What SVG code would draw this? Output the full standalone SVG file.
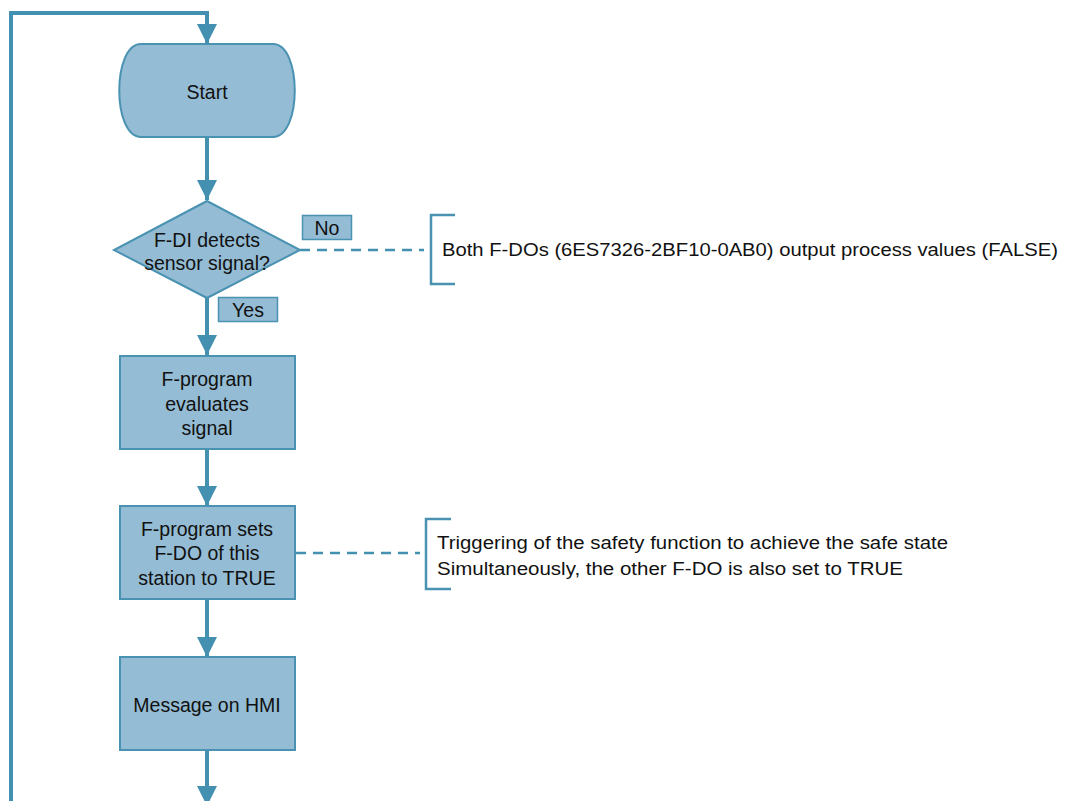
<svg xmlns="http://www.w3.org/2000/svg" width="1068" height="801" viewBox="0 0 1068 801">
<style>
.shape{fill:#94bcd4;stroke:#4a92b2;stroke-width:2}
.lbl{fill:#94bcd4;stroke:#4a92b2;stroke-width:1.5}
.flow{fill:none;stroke:#4490b0;stroke-width:4}
.dash{fill:none;stroke:#4490b0;stroke-width:2.5;stroke-dasharray:10 7}
.brk{fill:none;stroke:#4a92b2;stroke-width:2.5}
.t{font-family:"Liberation Sans",Arial,sans-serif;font-size:19.5px;fill:#111;text-anchor:middle}
.n{font-family:"Liberation Sans",Arial,sans-serif;font-size:17.5px;fill:#111}
</style>
<defs>
<marker id="ah" markerUnits="userSpaceOnUse" markerWidth="22" markerHeight="20" refX="20" refY="10" orient="auto">
<path d="M0,0 L20,10 L0,20 Z" fill="#4490b0"/>
</marker>
</defs>
<g id="connectors">
<path class="flow" d="M11,801 L11,13 L207,13 L207,44" marker-end="url(#ah)"/>
<path class="flow" d="M207,138 L207,200" marker-end="url(#ah)"/>
<path class="flow" d="M207,298 L207,355" marker-end="url(#ah)"/>
<path class="flow" d="M207,449 L207,506" marker-end="url(#ah)"/>
<path class="flow" d="M207,599 L207,657" marker-end="url(#ah)"/>
<path class="flow" d="M207,750 L207,806" marker-end="url(#ah)"/>
<path class="dash" d="M300,250 L424,250"/>
<path class="dash" d="M296,553 L420,553"/>
</g>
<g id="start">
<path class="shape" d="M141,44 L273,44 C302,44 302,137 273,137 L141,137 C112,137 112,44 141,44 Z"/>
<text class="t" x="207" y="99">Start</text>
</g>
<g id="decision">
<path class="shape" d="M207,201 L300,250 L207,298 L114,250 Z"/>
<text class="t" x="207" y="247">F-DI detects</text>
<text class="t" x="207" y="270">sensor signal?</text>
</g>
<g id="label-no">
<rect class="lbl" x="302.5" y="215.5" width="49" height="24"/>
<text class="t" x="327" y="235">No</text>
</g>
<g id="label-yes">
<rect class="lbl" x="218.5" y="297.5" width="59" height="24"/>
<text class="t" x="248" y="317">Yes</text>
</g>
<g id="note-false">
<path class="brk" d="M455,215 L431,215 L431,284 L455,284"/>
<text class="n" x="442" y="256" textLength="616" lengthAdjust="spacingAndGlyphs">Both F-DOs (6ES7326-2BF10-0AB0) output process values (FALSE)</text>
</g>
<g id="evaluate">
<rect class="shape" x="120" y="356" width="175" height="93"/>
<text class="t" x="207" y="386">F-program</text>
<text class="t" x="207" y="411">evaluates</text>
<text class="t" x="207" y="435">signal</text>
</g>
<g id="set-fdo">
<rect class="shape" x="120" y="506" width="175" height="93"/>
<text class="t" x="207" y="536">F-program sets</text>
<text class="t" x="207" y="560">F-DO of this</text>
<text class="t" x="207" y="585">station to TRUE</text>
</g>
<g id="note-safety">
<path class="brk" d="M451,519 L426,519 L426,589 L451,589"/>
<text class="n" x="437" y="549" textLength="511" lengthAdjust="spacingAndGlyphs">Triggering of the safety function to achieve the safe state</text>
<text class="n" x="437" y="575" textLength="466" lengthAdjust="spacingAndGlyphs">Simultaneously, the other F-DO is also set to TRUE</text>
</g>
<g id="hmi">
<rect class="shape" x="120" y="657" width="175" height="93"/>
<text class="t" x="207" y="712">Message on HMI</text>
</g>
</svg>
